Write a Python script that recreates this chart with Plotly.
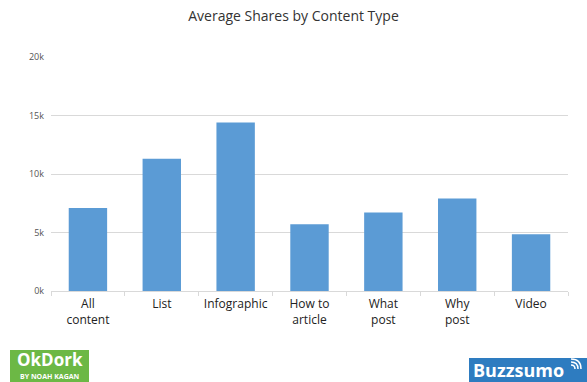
import plotly.graph_objects as go

# Average shares per content type
categories = ["All<br>content", "List", "Infographic", "How to<br>article",
              "What<br>post", "Why<br>post", "Video"]
avg_shares = [7100, 11300, 14400, 5700, 6700, 7900, 4850]

y_tick_values = [0, 5000, 10000, 15000, 20000]
y_tick_labels = ["0k", "5k", "10k", "15k", "20k"]

BAR_COLOR = "#5b9bd5"
GRID_COLOR = "#d9d9d9"
FONT = "Open Sans, DejaVu Sans, sans-serif"

# plot area in pixels: used to place the badges in paper coordinates
PLOT_L, PLOT_T, PLOT_W, PLOT_H = 51, 57, 517, 234


def px(x):
    return (x - PLOT_L) / PLOT_W


def py(y):
    return (PLOT_T + PLOT_H - y) / PLOT_H


fig = go.Figure(
    go.Bar(
        x=categories,
        y=avg_shares,
        marker=dict(color=BAR_COLOR, line=dict(width=0)),
        hoverinfo="x+y",
    )
)

fig.update_layout(
    width=587,
    height=382,
    margin=dict(l=PLOT_L, r=587 - PLOT_L - PLOT_W, t=PLOT_T,
                b=382 - PLOT_T - PLOT_H),
    paper_bgcolor="white",
    plot_bgcolor="white",
    bargap=0.48,
    showlegend=False,
    font=dict(family=FONT, color="#333333"),
    title=dict(
        text="Average Shares by Content Type",
        x=0.5,
        xanchor="center",
        y=1 - 16 / 382,
        yanchor="middle",
        font=dict(family=FONT, size=14, color="#333333"),
    ),
)

fig.update_xaxes(
    showgrid=False,
    showline=True,
    linecolor=GRID_COLOR,
    linewidth=1,
    ticks="outside",
    tickson="boundaries",
    ticklen=4,
    tickcolor=GRID_COLOR,
    ticklabelstandoff=2,
    tickfont=dict(family=FONT, size=12, color="#222222"),
)

fig.update_yaxes(
    range=[0, 20000],
    tickvals=y_tick_values,
    ticktext=y_tick_labels,
    showgrid=True,
    gridcolor=GRID_COLOR,
    gridwidth=1,
    zeroline=False,
    showline=False,
    ticks="",
    ticklabelstandoff=6,
    tickfont=dict(family=FONT, size=9, color="#555555"),
)

# OkDork badge (bottom left)
fig.add_shape(type="rect", xref="paper", yref="paper",
              x0=px(10), x1=px(89), y0=py(382), y1=py(350),
              fillcolor="#6cb845", line=dict(width=0), layer="above")
fig.add_annotation(xref="paper", yref="paper", x=px(49.5), y=py(359.5),
                   text="<b>OkDork</b>", showarrow=False,
                   xanchor="center", yanchor="middle",
                   font=dict(family=FONT, size=17, color="white"))
fig.add_annotation(xref="paper", yref="paper", x=px(49.5), y=py(376),
                   text="<b>BY NOAH KAGAN</b>", showarrow=False,
                   xanchor="center", yanchor="middle",
                   font=dict(family=FONT, size=7, color="white"))

# Buzzsumo badge (bottom right)
fig.add_shape(type="rect", xref="paper", yref="paper",
              x0=px(469), x1=px(587), y0=py(382), y1=py(358),
              fillcolor="#2e7cc0", line=dict(width=0), layer="above")
fig.add_annotation(xref="paper", yref="paper", x=px(471), y=py(369.5),
                   text="<b>Buzzsumo</b>", showarrow=False,
                   xanchor="left", yanchor="middle",
                   font=dict(family=FONT, size=18, color="white"))
# signal arcs radiating from the final "o"
cx, cy = 571, 369
for r in (4, 7, 10):
    fig.add_shape(type="path", xref="paper", yref="paper",
                  path=(f"M {px(cx)} {py(cy - r)} "
                        f"Q {px(cx + r)} {py(cy - r)} "
                        f"{px(cx + r)} {py(cy)}"),
                  line=dict(color="white", width=1.5), layer="above")

fig.write_html("out.html")
